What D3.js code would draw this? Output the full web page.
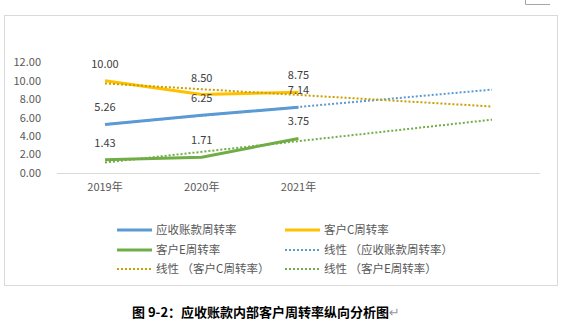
<!DOCTYPE html>
<html>
<head>
<meta charset="utf-8">
<script src="https://cdn.jsdelivr.net/npm/d3@7"></script>
<style>
  body { margin: 0; background: #fff; }
  svg { display: block; font-family: "Noto Sans CJK SC", "DejaVu Sans", sans-serif; }
</style>
</head>
<body>
<svg id="chart" width="566" height="322"></svg>
<script>
var years = ["2019年", "2020年", "2021年"]
var slots = ["2019年", "2020年", "2021年", "f1", "f2"]   // two forecast periods for the trend lines
var yTicks = [0, 2, 4, 6, 8, 10, 12]

var arTurnover = [5.26, 6.25, 7.14]
var custC = [10.00, 8.50, 8.75]
var custE = [1.43, 1.71, 3.75]

var series = [
	{name: "应收账款周转率", values: arTurnover, color: "#5B9BD5", trend: "#5B9BD5"},
	{name: "客户C周转率", values: custC, color: "#FFC000", trend: "#C9A000"},
	{name: "客户E周转率", values: custE, color: "#70AD47", trend: "#70AD47"}
]

var svg = d3.select("#chart")

// outer chart frame
svg.append("rect")
	.attr("x", 4.5).attr("y", 15.5)
	.attr("width", 553).attr("height", 270)
	.attr("fill", "none").attr("stroke", "#d9d9d9")

// little corner mark top right
svg.append("path")
	.attr("d", "M525.5,0 V4.5 H550")
	.attr("fill", "none").attr("stroke", "#a6a6a6")

var x = d3.scalePoint().domain(slots).range([105, 492])
var y = d3.scaleLinear().domain([0, 12]).range([173, 62.3])

// y axis labels, no axis line
svg.append("g").selectAll("text")
	.data(yTicks).enter().append("text")
	.attr("x", 41)
	.attr("y", function(d) { return y(d) })
	.attr("dy", "0.35em")
	.attr("text-anchor", "end")
	.attr("font-size", 11)
	.attr("fill", "#595959")
	.text(function(d) { return d.toFixed(2) })

// x axis line
svg.append("line")
	.attr("x1", 57).attr("x2", 540)
	.attr("y1", y(0) + 0.5).attr("y2", y(0) + 0.5)
	.attr("stroke", "#d9d9d9")

svg.append("g").selectAll("text")
	.data(years).enter().append("text")
	.attr("x", function(d) { return x(d) })
	.attr("y", 191)
	.attr("text-anchor", "middle")
	.attr("font-size", 11)
	.attr("fill", "#595959")
	.text(function(d) { return d })

var line = d3.line()
	.x(function(d) { return x(slots[d.i]) })
	.y(function(d) { return y(d.v) })

// least squares trend, extended two periods forward
function trend(vals)
{
	var n = vals.length
	var mx = d3.mean(vals, function(v, i) { return i })
	var my = d3.mean(vals)
	var num = 0, den = 0
	for (var i = 0; i < n; i++) {
		num += (i - mx) * (vals[i] - my)
		den += (i - mx) * (i - mx)
	}
	var b = num / den
	return [{i: 0, v: my - b * mx}, {i: 4, v: my + b * (4 - mx)}]
}

// solid series lines
series.forEach(function(s) {
	svg.append("path")
		.datum(s.values.map(function(v, i) { return {i: i, v: v} }))
		.attr("fill", "none")
		.attr("stroke", s.color)
		.attr("stroke-width", 3)
		.attr("d", line)
})

// dotted trend lines drawn on top
series.forEach(function(s) {
	svg.append("path")
		.datum(trend(s.values))
		.attr("fill", "none")
		.attr("stroke", s.trend)
		.attr("stroke-width", 2)
		.attr("stroke-dasharray", "2,2")
		.attr("d", line)
})

// data labels
series.forEach(function(s) {
	svg.append("g").selectAll("text")
		.data(s.values).enter().append("text")
		.attr("x", function(d, i) { return x(slots[i]) })
		.attr("y", function(d) { return y(d) - 13 })
		.attr("text-anchor", "middle")
		.attr("font-size", 11)
		.attr("fill", "#404040")
		.text(function(d) { return d.toFixed(2) })
})

// legend
var legend = [
	{label: "应收账款周转率", color: "#5B9BD5", dash: null},
	{label: "客户C周转率", color: "#FFC000", dash: null},
	{label: "客户E周转率", color: "#70AD47", dash: null},
	{label: "线性 （应收账款周转率）", color: "#5B9BD5", dash: "2,2"},
	{label: "线性 （客户C周转率）", color: "#C9A000", dash: "2,2"},
	{label: "线性 （客户E周转率）", color: "#70AD47", dash: "2,2"}
]

var lg = svg.append("g").selectAll("g")
	.data(legend).enter().append("g")
	.attr("transform", function(d, i) {
		return "translate(" + (i % 2 ? 285 : 117) + "," + [230, 250, 269][Math.floor(i / 2)] + ")"
	})

lg.append("line")
	.attr("x1", 0).attr("x2", 35)
	.attr("stroke", function(d) { return d.color })
	.attr("stroke-width", function(d) { return d.dash ? 2 : 3 })
	.attr("stroke-dasharray", function(d) { return d.dash })

lg.append("text")
	.attr("x", 39)
	.attr("dy", "0.35em")
	.attr("font-size", 11.5)
	.attr("fill", "#595959")
	.text(function(d) { return d.label })

// caption
var cap = svg.append("text")
	.attr("x", 132).attr("y", 317)
	.attr("font-size", 13)
	.attr("font-weight", "bold")
	.attr("fill", "#000")
cap.append("tspan").text("图 9-2：应收账款内部客户周转率纵向分析图")
cap.append("tspan").attr("font-weight", "normal").attr("fill", "#999").text("↵")
</script>
</body>
</html>
